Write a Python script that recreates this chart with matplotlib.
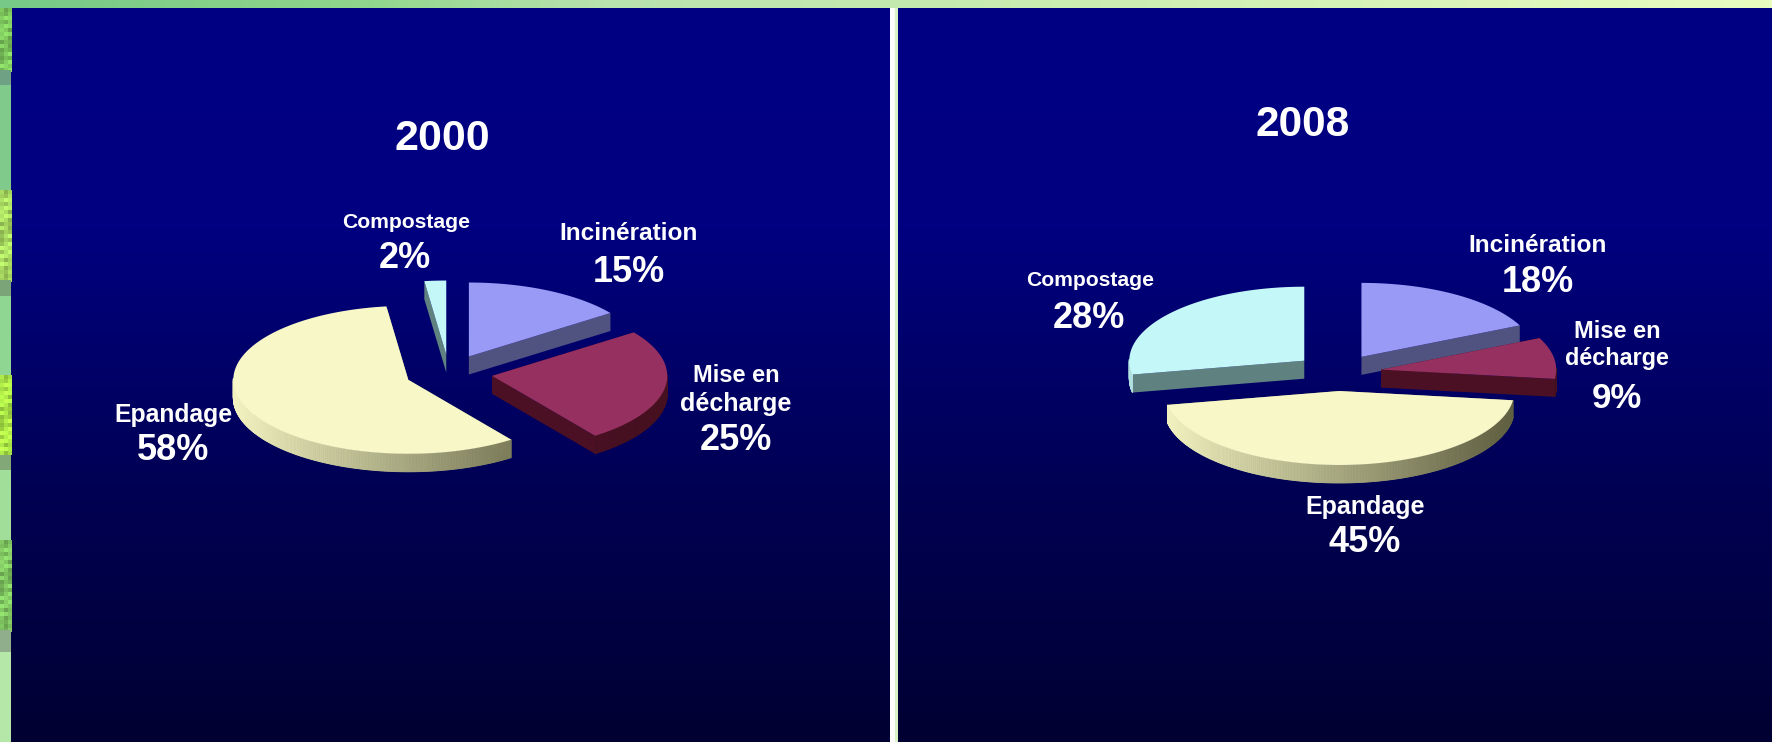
import numpy as np
import matplotlib.pyplot as plt
from matplotlib.colors import LinearSegmentedColormap, to_rgb
from matplotlib.patches import Polygon, Rectangle

plt.rcParams['font.family'] = ['Liberation Sans', 'DejaVu Sans']

categories = ["Incinération", "Mise en\ndécharge", "Epandage", "Compostage"]
values_2000 = [15, 25, 58, 2]
values_2008 = [18, 9, 45, 28]

top_colors = ["#9999f6", "#963060", "#f7f7c8", "#c4f7f8"]
cut_colors = ["#50527f", "#4c1024", "#8c8c68", "#5f8280"]
rim_light = ["#7a7ab8", "#5a1530", "#f2f2c0", "#b0e0e0"]
rim_dark = ["#4a4a78", "#45101f", "#5e5e40", "#5f8280"]

# pie geometry in pixels
RX, RY, DEPTH, EXPLODE = 175, 74, 18, 0.25
W, H = 1772, 742


def point(cx, cy, ang, r=1.0):
    a = np.radians(ang)
    return cx + RX * r * np.sin(a), cy - RY * r * np.cos(a)


def draw_slice(ax, cx, cy, start, end, i):
    mid = (start + end) / 2
    tx, ty = point(cx, cy, mid, EXPLODE)
    angs = np.linspace(start, end, max(int(end - start) * 2, 4))
    xs, ys = point(tx, ty, angs)

    # flat cut faces, then the shaded outer wall, then the top
    for ex, ey in [(xs[0], ys[0]), (xs[-1], ys[-1])]:
        ax.add_patch(Polygon([(tx, ty), (ex, ey), (ex, ey + DEPTH), (tx, ty + DEPTH)],
                             fc=cut_colors[i], ec="none", zorder=2 + i))
    light = np.array(to_rgb(rim_light[i]))
    dark = np.array(to_rgb(rim_dark[i]))
    for k in range(len(angs) - 1):
        if np.cos(np.radians(angs[k])) > 0.02:
            continue
        t = np.clip((xs[k] - (tx - RX)) / (2 * RX), 0, 1)
        c = light + (dark - light) * t
        ax.add_patch(Polygon([(xs[k], ys[k]), (xs[k + 1], ys[k + 1]),
                              (xs[k + 1], ys[k + 1] + DEPTH), (xs[k], ys[k] + DEPTH)],
                             fc=c, ec=c, lw=0.6, zorder=2 + i))
    ax.add_patch(Polygon(np.vstack([[tx, ty], np.column_stack([xs, ys])]),
                         fc=top_colors[i], ec="none", zorder=2.5 + i))


def draw_pie(ax, cx, cy, values):
    edges = np.concatenate([[0], np.cumsum(values)]) * 3.6
    for i in range(len(values)):
        draw_slice(ax, cx, cy, edges[i], edges[i + 1], i)


def draw_strip(ax):
    # mottled border down the left edge
    bands = [(8, 70, "#7fc95e", 1), (70, 85, "#6fa285", 0),
             (85, 190, "#80cb8c", 0), (190, 280, "#aadc62", 1), (280, 296, "#7ba578", 0),
             (296, 375, "#8fd692", 0), (375, 455, "#aeea48", 1), (455, 470, "#82a878", 0),
             (470, 540, "#a0de9a", 0), (540, 630, "#82c862", 1), (630, 652, "#90ad8c", 0),
             (652, 742, "#b5e8a8", 0)]
    shades = [1.0, 0.88, 1.08, 0.95, 1.14, 0.82, 1.03]
    for y0, y1, col, mottled in bands:
        base = np.array(to_rgb(col))
        if not mottled:
            ax.add_patch(Rectangle((0, y0), 11, y1 - y0, fc=base, ec="none", zorder=1))
            continue
        for row, y in enumerate(range(y0, y1, 4)):
            for c, x in enumerate(range(0, 11, 4)):
                s = shades[(row * 3 + c * 5 + row // 3) % len(shades)]
                ax.add_patch(Rectangle((x, y), 4, 4, fc=np.clip(base * s, 0, 1),
                                       ec="none", zorder=1))


fig = plt.figure(figsize=(W / 100, H / 100), dpi=100, facecolor="#c2e8b0")
ax = fig.add_axes([0, 0, 1, 1])
ax.axis("off")

navy = LinearSegmentedColormap.from_list("navy", [(0, "#000084"), (0.3, "#000080"),
                                                  (0.65, "#000054"), (1, "#000032")])
grad = np.linspace(0, 1, 256).reshape(-1, 1)
for x0, x1 in [(11, 890), (898, W)]:
    ax.imshow(grad, cmap=navy, extent=(x0, x1, H, 8), aspect="auto", zorder=1, vmin=0, vmax=1)

band = LinearSegmentedColormap.from_list("band", [(0, "#76c987"), (0.2, "#8fd68c"),
                                                  (0.34, "#b8e2ae"), (0.54, "#c6ebb0"),
                                                  (1, "#e8fcc0")])
ax.imshow(np.linspace(0, 1, 256).reshape(1, -1), cmap=band, extent=(0, W, 8, 0),
          aspect="auto", zorder=1, vmin=0, vmax=1)
ax.set_xlim(0, W)
ax.set_ylim(H, 0)

ax.add_patch(Rectangle((890, 8), 5, H, fc="white", ec="none", zorder=1))
ax.add_patch(Rectangle((895, 8), 3, H, fc="#d8f4c4", ec="none", zorder=1))
draw_strip(ax)

draw_pie(ax, 449, 373, values_2000)
draw_pie(ax, 1338, 372.5, values_2008)


def label(x, y, s, size):
    ax.text(x, y, s, color="white", fontsize=size, fontweight="bold",
            ha="center", va="center", zorder=20)


label(442, 139, "2000", 31)
label(1303, 125, "2008", 30.5)

label(406, 222, categories[3], 15.2)
label(405, 259, "%d%%" % values_2000[3], 26)
label(629, 234, categories[0], 17.6)
label(629, 273, "%d%%" % values_2000[0], 26)
label(736, 376, "Mise en", 17)
label(736, 404, "décharge", 18)
label(736, 440, "%d%%" % values_2000[1], 26)
label(173, 415, categories[2], 17.8)
label(173, 450, "%d%%" % values_2000[2], 26)

label(1090, 281, categories[3], 15.2)
label(1089, 318, "%d%%" % values_2008[3], 26)
label(1538, 246, categories[0], 17.6)
label(1538, 283, "%d%%" % values_2008[0], 26)
label(1617, 331, "Mise en", 17)
label(1617, 359, "décharge", 16.8)
label(1617, 398, "%d%%" % values_2008[1], 25)
label(1365, 507, categories[2], 18)
label(1365, 543, "%d%%" % values_2008[2], 26)

fig.savefig("out.png", dpi=100)
